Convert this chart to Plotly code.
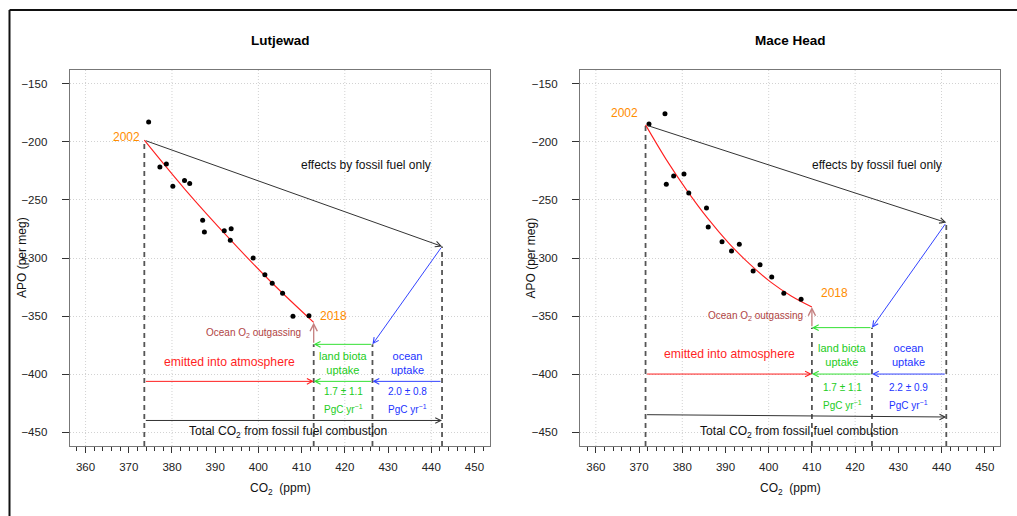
import plotly.graph_objects as go

FONT = "Liberation Sans, Arial, Helvetica, sans-serif"

# ---------------- data: Lutjewad ----------------
LUT_CO2 = [374.6, 377.2, 378.7, 380.2, 382.9, 384.1, 387.1, 387.5, 392.1, 393.7,
           393.5, 398.8, 401.5, 403.2, 405.6, 408.0, 411.7]
LUT_APO = [-182.8, -221.6, -219.0, -238.2, -233.3, -235.9, -267.5, -277.6, -276.5, -274.7,
           -284.7, -300.0, -314.4, -321.8, -330.4, -350.3, -349.7]
LUT_FIT_CO2 = [373.6, 383.0, 393.5, 403.0, 412.8]
LUT_FIT_APO = [-198.5, -240.8, -284.2, -320.9, -355.5]
# budget geometry: start, atmosphere end, land end, fossil end (CO2) ; APO levels
LUT_BUDGET_CO2 = [373.6, 412.8, 426.4, 442.5]
LUT_BUDGET_APO = {"start": -198.5, "end": -355.5, "land": -374.4, "fossil": -290.0,
                  "partition": -406.3, "total": [-440.0, -440.0]}
LUT_OCEAN_TXT = "2.0 ± 0.8"

# ---------------- data: Mace Head ----------------
MHD_CO2 = [372.3, 376.0, 376.3, 378.0, 380.4, 381.5, 385.6, 386.0, 389.2, 391.4,
           393.2, 396.4, 398.0, 400.7, 403.5, 407.5]
MHD_APO = [-184.5, -175.6, -236.5, -229.3, -227.6, -244.0, -256.9, -273.3, -285.9, -294.0,
           -288.2, -311.2, -305.8, -316.4, -330.4, -335.6]
MHD_FIT_CO2 = [371.5, 376.3, 381.1, 385.9, 390.7, 395.5, 400.4, 405.2, 410.0]
MHD_FIT_APO = [-185.3, -215.2, -241.9, -265.9, -286.9, -304.9, -320.6, -332.7, -342.2]
MHD_BUDGET_CO2 = [371.5, 410.0, 423.9, 441.1]
MHD_BUDGET_APO = {"start": -185.3, "end": -342.2, "land": -360.0, "fossil": -269.5,
                  "partition": -400.0, "total": [-435.0, -437.0]}
MHD_OCEAN_TXT = "2.2 ± 0.9"

LAND_TXT = "1.7 ± 1.1"
TITLES = ["Lutjewad", "Mace Head"]

X_RANGE = [356.4, 453.6]
Y_RANGE = [-462.0, -138.0]
X_GRID = [360, 380, 400, 420, 440]

# text anchor positions (CO2, APO) per panel
LUT_TXT = {"y2002": (373.0, -195.4), "y2018": (413.9, -349.7), "eff": (424.9, -219.5),
           "outg": (398.9, -364.6), "emit": (393.3, -389.7), "land": (419.7, -390.5),
           "ocean": (434.4, -390.5), "num": -415.0, "unit": -430.5, "total": (406.9, -449.7)}
MHD_TXT = {"y2002": (370.1, -175.3), "y2018": (411.6, -329.9), "eff": (425.1, -219.5),
           "outg": (396.9, -350.0), "emit": (390.9, -382.8), "land": (417.0, -383.3),
           "ocean": (432.4, -383.3), "num": -411.7, "unit": -426.4, "total": (407.1, -449.7)}

RED = "#FF1F1F"
GREEN_L = "#33E033"
GREEN_T = "#22CC22"
BLUE_L = "#3344FF"
BLUE_T = "#2233FF"
ORANGE = "#FF8C00"
BROWN_T = "#B04444"
BROWN_L = "#C47F7F"
DARK = "#333333"
DASH = "#555555"

W, H = 1017, 516
X_DOMAINS = [[70 / W, 490 / W], [580.3 / W, 1000.3 / W]]
Y_DOMAIN = [1 - 446 / H, 1 - 70 / H]

fig = go.Figure()
annotations = []
shapes = []


def arrow(xr, yr, tail, head, color, width=1.0):
    annotations.append(dict(
        x=head[0], y=head[1], ax=tail[0], ay=tail[1],
        xref=xr, yref=yr, axref=xr, ayref=yr, text="", showarrow=True,
        arrowhead=5, arrowsize=1.1, arrowwidth=width, arrowcolor=color,
        standoff=0, startstandoff=0))


def label(xr, yr, pos, text, color, size, xanchor="center"):
    annotations.append(dict(
        x=pos[0], y=pos[1], xref=xr, yref=yr, text=text, showarrow=False,
        xanchor=xanchor, yanchor="middle",
        font=dict(family=FONT, size=size, color=color)))


panels = [
    (LUT_CO2, LUT_APO, LUT_FIT_CO2, LUT_FIT_APO, LUT_BUDGET_CO2, LUT_BUDGET_APO, LUT_TXT, LUT_OCEAN_TXT),
    (MHD_CO2, MHD_APO, MHD_FIT_CO2, MHD_FIT_APO, MHD_BUDGET_CO2, MHD_BUDGET_APO, MHD_TXT, MHD_OCEAN_TXT),
]

for i, (co2, apo, fx, fy, bx, by, tx, ocean_txt) in enumerate(panels):
    sfx = "" if i == 0 else str(i + 1)
    xa, ya = "x" + sfx, "y" + sfx
    x_start, x_atm, x_land, x_ff = bx

    # grid lines every 20 ppm
    for g in X_GRID:
        shapes.append(dict(type="line", xref=xa, yref=ya + " domain", x0=g, x1=g, y0=0, y1=1,
                           line=dict(color="#D2D2D2", width=1, dash="1px,2px"), layer="below"))

    # dashed verticals
    vlines = [(x_start, by["start"]), (x_atm, by["land"]), (x_land, by["land"]), (x_ff, by["fossil"])]
    for vx, vtop in vlines:
        fig.add_trace(go.Scatter(x=[vx, vx], y=[Y_RANGE[0], vtop], mode="lines",
                                 line=dict(color=DASH, width=1.8, dash="5px,4px"),
                                 xaxis=xa, yaxis=ya, showlegend=False, hoverinfo="skip"))

    # fitted red curve
    fig.add_trace(go.Scatter(x=fx, y=fy, mode="lines", line=dict(color=RED, width=1.1, shape="spline"),
                             xaxis=xa, yaxis=ya, showlegend=False, hoverinfo="skip"))

    # observed points
    fig.add_trace(go.Scatter(x=co2, y=apo, mode="markers", marker=dict(color="black", size=5),
                             xaxis=xa, yaxis=ya, showlegend=False))

    # arrows
    arrow(xa, ya, (x_start, by["start"]), (x_ff, by["fossil"]), DARK)
    arrow(xa, ya, (x_ff, by["fossil"]), (x_land, by["land"]), BLUE_L)
    arrow(xa, ya, (x_land, by["land"]), (x_atm, by["land"]), GREEN_L)
    arrow(xa, ya, (x_atm, by["land"]), (x_atm, by["end"]), BROWN_L, 1.3)
    arrow(xa, ya, (x_start, by["partition"]), (x_atm, by["partition"]), RED)
    arrow(xa, ya, (x_land, by["partition"]), (x_atm, by["partition"]), GREEN_L)
    arrow(xa, ya, (x_ff, by["partition"]), (x_land, by["partition"]), BLUE_L)
    arrow(xa, ya, (x_start, by["total"][0]), (x_ff, by["total"][1]), DARK)

    # labels
    label(xa, ya, tx["y2002"], "2002", ORANGE, 12, "right")
    label(xa, ya, tx["y2018"], "2018", ORANGE, 12, "left")
    label(xa, ya, tx["eff"], "effects by fossil fuel only", "#111111", 12)
    label(xa, ya, tx["outg"], "Ocean O<sub>2</sub> outgassing", BROWN_T, 10)
    label(xa, ya, tx["emit"], "emitted into atmosphere", RED, 12.2)
    label(xa, ya, tx["land"], "land biota<br>uptake", GREEN_T, 11)
    label(xa, ya, tx["ocean"], "ocean<br>uptake", BLUE_T, 11)
    label(xa, ya, (tx["land"][0], tx["num"]), LAND_TXT, GREEN_T, 10)
    label(xa, ya, (tx["land"][0], tx["unit"]), "PgC yr<sup>−1</sup>", GREEN_T, 10)
    label(xa, ya, (tx["ocean"][0], tx["num"]), ocean_txt, BLUE_T, 10)
    label(xa, ya, (tx["ocean"][0], tx["unit"]), "PgC yr<sup>−1</sup>", BLUE_T, 10)
    label(xa, ya, tx["total"], "Total CO<sub>2</sub> from fossil fuel combustion", "#111111", 12.1)

    # titles
    xc = (X_DOMAINS[i][0] + X_DOMAINS[i][1]) / 2
    annotations.append(dict(x=xc, y=1 - 40.7 / H, xref="paper", yref="paper", showarrow=False,
                            text="<b>%s</b>" % TITLES[i], xanchor="center", yanchor="middle",
                            font=dict(family=FONT, size=13.5, color="black")))
    annotations.append(dict(x=xc, y=1 - 488.5 / H, xref="paper", yref="paper", showarrow=False,
                            text="CO<sub>2</sub>\u00a0\u00a0(ppm)", xanchor="center", yanchor="middle",
                            font=dict(family=FONT, size=12, color="#111111")))
    annotations.append(dict(x=(22 + (0 if i == 0 else 508.5)) / W, y=(Y_DOMAIN[0] + Y_DOMAIN[1]) / 2,
                            xref="paper", yref="paper", showarrow=False, textangle=-90,
                            text="APO (per meg)", xanchor="center", yanchor="middle",
                            font=dict(family=FONT, size=12, color="#111111")))

    axis_common = dict(showline=True, linecolor="#777777", linewidth=1, mirror=True, zeroline=False)
    fig.update_layout(**{
        "xaxis" + sfx: dict(domain=X_DOMAINS[i], range=X_RANGE, anchor=ya, tick0=360, dtick=10,
                            ticks="outside", ticklen=6, tickcolor="#333333", showgrid=False,
                            minor=dict(dtick=2, tick0=360, ticks="outside", ticklen=3.5,
                                       tickcolor="#333333", showgrid=False),
                            ticklabelstandoff=4,
                            tickfont=dict(family=FONT, size=11.5, color="#222222"), **axis_common),
        "yaxis" + sfx: dict(domain=Y_DOMAIN, range=Y_RANGE, anchor=xa, tick0=-450, dtick=50,
                            ticks="outside", ticklen=7, tickcolor="#333333", showgrid=True,
                            gridcolor="#D2D2D2", griddash="1px,2px", gridwidth=1,
                            ticksuffix="\u00a0\u00a0", ticklabelstandoff=6,
                            tickfont=dict(family=FONT, size=11.5, color="#222222"), **axis_common),
    })

# outer frame (top and left edges of the figure border)
shapes.append(dict(type="line", xref="paper", yref="paper", x0=9.5 / W, x1=1, y0=1 - 10 / H, y1=1 - 10 / H,
                   line=dict(color="#111111", width=2)))
shapes.append(dict(type="line", xref="paper", yref="paper", x0=9.5 / W, x1=9.5 / W, y0=0, y1=1 - 10 / H,
                   line=dict(color="#111111", width=2)))

fig.update_layout(width=W, height=H, margin=dict(l=0, r=0, t=0, b=0),
                  paper_bgcolor="white", plot_bgcolor="white",
                  annotations=annotations, shapes=shapes, showlegend=False,
                  font=dict(family=FONT))

fig.write_html("out.html", config={"displayModeBar": False},
               post_script="document.body.style.margin='0';")
